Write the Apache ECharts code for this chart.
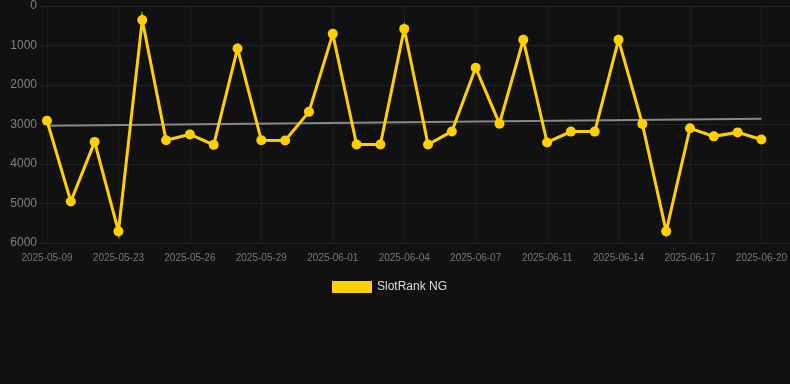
<!DOCTYPE html>
<html style="height: 100%">
<head>
    <meta charset="utf-8">
    <script type="text/javascript" src="https://cdn.jsdelivr.net/npm/echarts@6/dist/echarts.min.js"></script>
</head>
<body style="height: 100%; margin: 0; background: #111111">
    <div id="rankChart" style="height: 384px; width: 790px;"></div>

    <script type="text/javascript">
        // dates on the x axis (only every 3rd label is shown)
        var dates = [
            '2025-05-09', '2025-05-21', '2025-05-22', '2025-05-23', '2025-05-24', '2025-05-25',
            '2025-05-26', '2025-05-27', '2025-05-28', '2025-05-29', '2025-05-30', '2025-05-31',
            '2025-06-01', '2025-06-02', '2025-06-03', '2025-06-04', '2025-06-05', '2025-06-06',
            '2025-06-07', '2025-06-08', '2025-06-10', '2025-06-11', '2025-06-12', '2025-06-13',
            '2025-06-14', '2025-06-15', '2025-06-16', '2025-06-17', '2025-06-18', '2025-06-19',
            '2025-06-20'
        ];
        // rank values (lower is better, axis inverted)
        var rankValues = [
            2905, 4950, 3440, 5705, 355, 3400, 3250, 3515, 1075, 3400, 3405, 2680,
            705, 3505, 3505, 580, 3505, 3175, 1565, 2980, 855, 3455, 3180, 3180,
            855, 2985, 5705, 3095, 3300, 3200, 3380
        ];
        // trend line end points
        var trendStart = 3030;
        var trendEnd = 2855;
        var seriesName = 'SlotRank NG';

        var trendData = dates.map(function (d, i) {
            if (i === 0) return trendStart;
            if (i === dates.length - 1) return trendEnd;
            return null;
        });

        var rankChart = echarts.init(document.getElementById('rankChart'));

        var option = {
            backgroundColor: '#111111',
            animation: false,
            grid: [
                // data grid
                { left: 47, right: 28, top: 6, bottom: 141 },
                // wider grid only for the horizontal lines
                { left: 40, right: 0, top: 6, bottom: 141 }
            ],
            legend: {
                data: [seriesName],
                top: 276,
                left: 327,
                icon: 'rect',
                itemWidth: 40,
                itemHeight: 12,
                textStyle: { color: '#dddddd', fontSize: 12 }
            },
            xAxis: [
                {
                    type: 'category',
                    gridIndex: 0,
                    data: dates,
                    boundaryGap: false,
                    axisLine: { show: false },
                    axisTick: { show: false },
                    axisLabel: {
                        interval: 2,
                        color: '#777777',
                        fontSize: 10,
                        margin: 10
                    },
                    splitLine: {
                        show: true,
                        interval: 2,
                        lineStyle: { color: '#1c1c1c' }
                    }
                },
                {
                    type: 'value',
                    gridIndex: 1,
                    show: false
                }
            ],
            yAxis: [
                {
                    type: 'value',
                    gridIndex: 0,
                    inverse: true,
                    min: 0,
                    max: 6000,
                    interval: 1000,
                    axisLine: { show: false },
                    axisTick: { show: false },
                    axisLabel: {
                        color: '#808080',
                        fontSize: 12,
                        margin: 10,
                        formatter: function (v) { return String(v); }
                    },
                    splitLine: { show: false }
                },
                {
                    type: 'value',
                    gridIndex: 1,
                    inverse: true,
                    min: 0,
                    max: 6000,
                    interval: 1000,
                    axisLine: { show: false },
                    axisTick: { show: false },
                    axisLabel: { show: false },
                    splitLine: { lineStyle: { color: '#222222' } }
                }
            ],
            series: [
                {
                    name: seriesName,
                    type: 'line',
                    xAxisIndex: 0,
                    yAxisIndex: 0,
                    data: rankValues,
                    symbol: 'circle',
                    symbolSize: 10,
                    itemStyle: { color: '#ffd000' },
                    lineStyle: { color: '#ffd000', width: 3, join: 'miter' },
                    z: 3
                },
                {
                    name: 'trend',
                    type: 'line',
                    xAxisIndex: 0,
                    yAxisIndex: 0,
                    data: trendData,
                    connectNulls: true,
                    symbol: 'none',
                    lineStyle: { color: '#888888', width: 2 },
                    z: 2
                }
            ]
        };

        rankChart.setOption(option);
    </script>
</body>
</html>
